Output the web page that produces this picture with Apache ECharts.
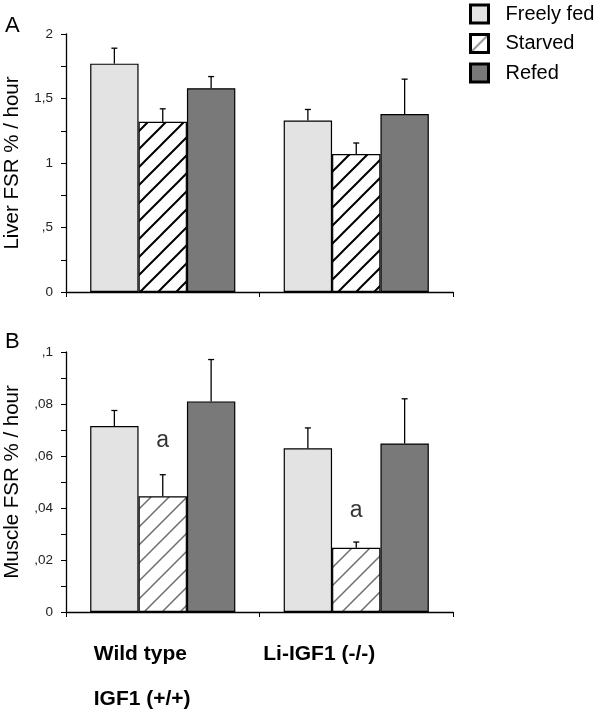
<!DOCTYPE html>
<html><head><meta charset="utf-8">
<script src="https://cdn.jsdelivr.net/npm/echarts@6/dist/echarts.min.js"></script>
<style>html,body{margin:0;padding:0;background:#fff}#c{width:600px;height:711px}</style>
</head><body><div id="c"></div><script>
// ---- data ----
const groups = ['Wild type|IGF1 (+/+)', 'Li-IGF1 (-/-)'];
const seriesNames = ['Freely fed', 'Starved', 'Refed'];
const liverFreely = [1.77, 1.33];
const liverFreelyErr = [0.12, 0.085];
const liverStarved = [1.32, 1.07];
const liverStarvedErr = [0.10, 0.085];
const liverRefed = [1.58, 1.38];
const liverRefedErr = [0.09, 0.27];
const muscleFreely = [0.0715, 0.063];
const muscleFreelyErr = [0.006, 0.0078];
const muscleStarved = [0.0445, 0.0247];
const muscleStarvedErr = [0.0083, 0.0022];
const muscleRefed = [0.081, 0.0648];
const muscleRefedErr = [0.0161, 0.0172];
const annotText = ['a', 'a'];
const annotY = [0.066, 0.039];

// ---- styles ----
const FONT = '"Liberation Sans", Arial, Helvetica, sans-serif';
function hatch(color, lw) {
  const s = 18, c = document.createElement('canvas');
  c.width = s; c.height = s;
  const g = c.getContext('2d');
  g.fillStyle = '#fff'; g.fillRect(0, 0, s, s);
  g.strokeStyle = color; g.lineWidth = lw; g.lineCap = 'square';
  g.beginPath();
  g.moveTo(-2, s + 2); g.lineTo(s + 2, -2);
  g.moveTo(-2, 2); g.lineTo(2, -2);
  g.moveTo(s - 2, s + 2); g.lineTo(s + 2, s - 2);
  g.stroke();
  return { image: c, repeat: 'repeat' };
}
const hatchA = hatch('#000', 2);
const hatchB = hatch('#6e6e6e', 1.5);
const cFreely = '#e3e3e3', cRefed = '#797979';
function fmt(v) {
  if (v === 0) return '0';
  return String(+v.toFixed(4)).replace('.', ',').replace(/^0,/, ',');
}

const chart = echarts.init(document.getElementById('c'), null, { renderer: 'canvas' });

function barSeries(name, data, color, gi) {
  return {
    type: 'bar', name, data, xAxisIndex: gi, yAxisIndex: gi,
    barGap: '0%', barCategoryGap: '25%',
    itemStyle: { color, borderColor: '#000', borderWidth: 1.2 },
    z: 2
  };
}
function errSeries(gi, sets) {
  const d = [];
  sets.forEach((s, si) => s[0].forEach((m, ci) => d.push([ci, m, m + s[1][ci], si])));
  return {
    type: 'custom', xAxisIndex: gi, yAxisIndex: gi, z: 5, silent: true,
    data: d,
    renderItem(params, api) {
      const catW = api.size([1, 0])[0];
      const off = (api.value(3) - 1) * catW * 0.25;
      const p0 = api.coord([api.value(0), api.value(1)]);
      const p1 = api.coord([api.value(0), api.value(2)]);
      const x = p0[0] + off;
      const st = { stroke: '#000', lineWidth: 1.3 };
      return { type: 'group', children: [
        { type: 'line', shape: { x1: x, y1: p0[1], x2: x, y2: p1[1] }, style: st },
        { type: 'line', shape: { x1: x - 3, y1: p1[1], x2: x + 3, y2: p1[1] }, style: st }
      ] };
    }
  };
}
function xAxis(gi, showLabels) {
  return {
    type: 'category', gridIndex: gi, data: groups,
    axisLine: { lineStyle: { color: '#000', width: 1.3 } },
    axisTick: { show: true, length: 5, alignWithLabel: false, lineStyle: { color: '#000' } },
    axisLabel: showLabels ? {
      show: true, interval: 0, margin: 20, color: '#000',
      formatter: (v, i) => i === 0 ? v.split('|').map(t => '{w|' + t + '}').join('\n') : '{l|' + v + '}',
      rich: {
        w: { fontFamily: FONT, fontSize: 21, fontWeight: 'bold', lineHeight: 45, width: 100, align: 'left', padding: [0, 38, 0, 0], color: '#000' },
        l: { fontFamily: FONT, fontSize: 21, fontWeight: 'bold', lineHeight: 45, width: 115, align: 'left', padding: [0, 71, 0, 0], color: '#000' }
      }
    } : { show: false }
  };
}
function yAxis(gi, max, interval, name) {
  return {
    type: 'value', gridIndex: gi, min: 0, max, interval,
    name, nameLocation: 'middle', nameRotate: 90, nameGap: 43,
    nameTextStyle: { fontFamily: FONT, fontSize: 20.5, color: '#000' },
    axisLine: { show: true, lineStyle: { color: '#000', width: 1.3 } },
    axisTick: { show: true, length: 5, lineStyle: { color: '#000' } },
    minorTick: { show: true, splitNumber: 2, length: 5, lineStyle: { color: '#000' } },
    splitLine: { show: false },
    axisLabel: { fontFamily: FONT, fontSize: 13.5, color: '#222', margin: 13, formatter: fmt }
  };
}

chart.setOption({
  animation: false,
  backgroundColor: '#fff',
  textStyle: { fontFamily: FONT },
  grid: [
    { left: 66, top: 34, width: 387, height: 258, containLabel: false, outerBoundsMode: 'none' },
    { left: 66, top: 352, width: 387, height: 260, containLabel: false, outerBoundsMode: 'none' }
  ],
  xAxis: [xAxis(0, false), xAxis(1, true)],
  yAxis: [yAxis(0, 2, 0.5, 'Liver FSR % / hour'), yAxis(1, 0.1, 0.02, 'Muscle FSR % / hour')],
  legend: {
    orient: 'vertical', left: 464, top: -1.5, itemWidth: 18, itemHeight: 18, itemGap: 8.5,
    icon: 'rect',
    itemStyle: { borderColor: '#000', borderWidth: 3 },
    textStyle: { fontFamily: FONT, fontSize: 20, color: '#000', padding: [0, 0, 0, 12] },
    data: [
      { name: 'Freely fed' },
      { name: 'Starved', itemStyle: { color: hatchB } },
      { name: 'Refed' }
    ]
  },
  graphic: [
    { type: 'text', left: 5, top: 15, style: { text: 'A', fontFamily: FONT, fontSize: 22, fill: '#000' } },
    { type: 'text', left: 5, top: 331, style: { text: 'B', fontFamily: FONT, fontSize: 22, fill: '#000' } }
  ],
  series: [
    barSeries(seriesNames[0], liverFreely, cFreely, 0),
    barSeries(seriesNames[1], liverStarved, hatchA, 0),
    barSeries(seriesNames[2], liverRefed, cRefed, 0),
    barSeries(seriesNames[0], muscleFreely, cFreely, 1),
    barSeries(seriesNames[1], muscleStarved, hatchB, 1),
    barSeries(seriesNames[2], muscleRefed, cRefed, 1),
    errSeries(0, [[liverFreely, liverFreelyErr], [liverStarved, liverStarvedErr], [liverRefed, liverRefedErr]]),
    errSeries(1, [[muscleFreely, muscleFreelyErr], [muscleStarved, muscleStarvedErr], [muscleRefed, muscleRefedErr]]),
    {
      type: 'scatter', xAxisIndex: 1, yAxisIndex: 1, symbolSize: 0, silent: true, z: 6,
      data: annotY.map((y, i) => ({ value: [i, y], label: { formatter: annotText[i] } })),
      label: { show: true, position: 'inside', fontFamily: FONT, fontSize: 23, color: '#000' }
    }
  ]
});
</script></body></html>
